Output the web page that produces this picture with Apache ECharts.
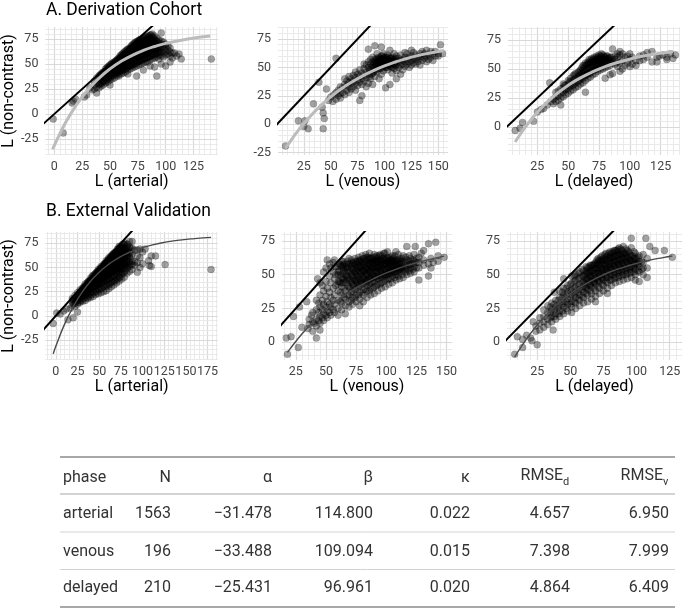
<!DOCTYPE html>
<html><head><meta charset="utf-8">
<script src="https://cdn.jsdelivr.net/npm/echarts@6/dist/echarts.min.js"></script>
<style>html,body{margin:0;padding:0;background:#fff}#c{width:685px;height:611px}</style>
</head><body><div id="c"></div>
<script>
// ---------- DATA ----------
// point rows: [x, y1, y2, ...]
const derivArterialPts = [
[-1,-5],[8,-19],[16,11],[17,13],[19,15],[27,17],[29,19],[32,26],[34,24],
[36,25,29,33],[38,21,27,31,36],[40,26,30,34,38],[42,28,32,37,40],
[44,29,33,38,42],[46,31,35,39,43,45],[48,32,36,41,45,47],[50,29,34,38,43,47,49],
[52,35,39,44,48,51],[54,36,41,45,49,52],[56,38,41,43,47,51,54],[58,38,40,44,48,52,56],
[60,40,43,46,50,54,57,59],[62,41,44,48,52,55,58,61],[64,42,45,49,53,57,60,63],
[66,40,44,47,51,55,58,62,65],[68,45,48,52,56,59,63,66],[70,46,49,53,57,60,64,67,69],
[72,47,50,54,58,62,65,68,71],[74,38,48,52,56,59,63,66,70,72],[76,49,53,57,61,64,68,71,74],
[78,50,54,58,62,66,69,72,75],[80,44,51,55,59,63,67,70,73,76],[82,52,56,60,64,68,71,74,77],
[84,52,57,61,65,69,72,75,78],[86,48,54,58,62,66,70,73,76,79],[88,55,59,63,67,71,74,77,80],
[90,47,56,60,64,68,72,75,78],[92,38,57,61,65,69,73,76],[94,55,59,63,67,71,74],
[96,50,58,62,66,70,73,81],[98,57,61,65,69,72],[100,48,59,63,67,70],[102,60,64,68],
[104,52,58,62,66],[106,56,61],[108,61],[110,58],[112,60],[114,55],[141,55]
];
const derivArterialCore = [
[41,30,35,39],[43,31,36,41],[45,33,37,42],[47,34,38,43,46],[49,36,40,44,48],[51,37,42,46,50],
[53,39,43,47,51],[55,40,45,49,53],[57,42,46,50,55],[59,43,47,51,55,58],[61,44,49,53,57,60],
[63,46,50,54,59,62],[65,47,51,56,60,64],[67,48,53,57,61,65],[69,49,54,58,62,66,68],
[71,50,55,59,63,67,70],[73,51,56,60,64,68,72],[75,52,57,61,65,69,73],[77,53,58,62,66,70,74],
[79,54,59,63,67,71,75],[81,55,60,64,68,72,76],[83,56,61,65,69,73,77],[85,57,62,66,70,74,78],
[87,58,63,67,71,75,79],[89,59,64,68,72,76],[91,60,65,69,73],[93,61,66,70],[95,62,67]
];
const derivVenousPts = [
[8,-19],[20,3],[25,-2],[26,3],[29,-4],[34,18],[39,37],[42,15],[43,10],[44,5],[43,-4],[46,31],[55,58],
[48,21],[50,24],[52,20],[53,26],[55,22,28],[57,25,30],[59,23,27,33],[61,28,32],[63,26,35,40],
[65,30,34,38],[67,28,33,37,42],[69,31,36,40],[71,33,38,43],[73,30,36,41,46],[75,34,39,44],
[77,21,37,42,48],[79,25,35,40,45],[81,38,43,49,53],[83,33,41,46,52],[85,36,44,50,55,66],
[87,40,47,53,57],[89,35,45,51,55,59],[91,42,48,53,57,69],[93,46,51,55,58,62],[95,40,49,53,56,59],
[97,44,51,54,57,60,68],[99,47,52,55,58,62],[101,32,50,53,56,59],[103,48,52,55,57,61],[105,35,51,54,58,65],
[107,45,50,55,59],[109,49,53,57,62],[111,40,47,52,56,60],[113,50,54,58],[115,44,52,56,61],
[117,48,53,57],[119,51,55,59,63],[121,53,57,62],[123,50,55,59],[125,52,56,60,65],[127,54,58,63],
[129,53,57,61],[131,55,59],[133,52,58,62],[135,56,60,64],[137,58,62],[139,55,60,65],[141,57,61],
[143,59,64],[145,56,62],[147,60,64],[150,60,62],[152,70],[154,62]
];
const derivVenousCore = [
[86,42,48],[88,44,50],[90,46,50,54],[92,48,52,56],[94,50,54,57],[96,49,53,56,58],[98,50,54,57,60],
[100,51,55,58],[102,50,54,57,59],[104,52,56,59],[106,51,55,58],[108,53,56],[110,52,55,58]
];
const derivDelayedPts = [
[7,-3],[11,-1],[13,4],[22,5],[25,13],[28,15],[30,16],[33,19],[35,38],[36,22],[44,19],
[38,20,24],[40,22,26,30],[42,23,27,31],[44,25,29,33],[46,26,30,34,37],[48,28,32,36],
[50,29,33,37,40],[52,31,35,39,42],[54,32,36,40,44],[56,34,38,42,46],[58,35,39,43,47],
[60,37,41,45,49],[62,38,42,46,50,53],[64,30,40,44,48,52,55],[66,42,46,50,54,56],
[68,43,47,51,55,57],[70,45,49,53,56,58],[72,46,50,54,57,59],[74,48,52,55,58,60],
[76,49,53,56,58,61],[78,50,54,57,59,62],[80,42,51,55,58,60],[82,52,56,59,61],
[84,45,53,57,60],[86,46,55,58,67],[88,54,58,61],[90,52,56,60,63],[92,48,55,62,65],
[94,50,57,63],[96,53,60],[98,55,61],[100,52,58,63],[102,54,60],[105,53,57],[108,57,61],
[111,58,62],[114,60,64],[118,56,65],[122,56,60],[124,61],[127,62],[130,58,60],[133,63],[135,59],[137,62]
];
const derivDelayedCore = [
[47,32,36],[51,35,39],[55,37,41,45],[59,40,44,48],[61,43,47,51],[63,44,49,53],[65,45,50,54],
[67,46,51,55,58],[69,48,52,56,59],[71,49,53,57,60],[73,50,54,58,61],[75,51,55,59,62],
[77,52,56,60,63],[79,53,57,61],[81,54,58,61],[83,55,59],[85,56,60]
];
const validArterialPts = [
[-3,-8],[1,3],[5,2],[9,5],[12,7],[14,-4],[17,8],[20,-2],[22,10],[25,4],
[19,11,15,18],[22,13,17,21],[25,12,16,20,24],[28,14,18,22,27],[31,15,20,24,29],
[34,16,21,25,29,33],[37,18,22,27,31,35],[40,19,24,28,32,36,39],[43,20,25,30,34,38,42],
[46,22,27,31,36,40,44],[49,23,28,33,37,42,46,48],[52,24,29,34,39,43,47,51],
[55,25,31,36,40,45,49,53],[58,26,32,37,42,46,51,55,57],[61,28,33,38,43,48,52,56,60],
[64,30,35,40,45,50,54,58,62],[67,32,37,42,47,51,56,60,65],[70,34,39,44,48,53,57,62,67],
[73,36,41,46,50,55,59,64,69,72],[76,38,43,48,52,57,61,66,71],[79,40,45,50,54,59,63,68,74],
[82,44,49,53,58,62,67,72],[85,46,51,56,61,66,71,77],[88,48,53,57,64,70,77],
[91,52,56,68],[94,45,55,62,68],[97,50,60,69],[100,54,66],[103,69],
[107,57],[108,52],[110,51,62],[115,62],[126,53],[179,48]
];
const validArterialCore = [
[20,13,17],[23,15,19],[26,14,18,22],[29,16,20,24,26],[32,18,22,26,29],[35,19,23,27,31],
[38,20,25,29,33,36],[41,22,27,31,35,38],[44,24,29,33,37,41],[47,25,30,34,38,42,45],
[50,27,32,36,40,44,47],[53,28,33,38,42,46,50],[56,30,35,39,44,48,52,54],[59,31,36,41,45,50,54,56],
[62,33,38,43,47,52,55,59],[65,35,40,45,49,53,57,61,63],[68,36,41,46,51,55,59,63,65],
[71,38,43,48,52,56,61,65,69],[74,40,45,49,54,58,62,67,71],[77,44,49,54,58,63,67,70,74],
[80,47,52,56,61,65,70,75],[83,51,55,60,64,69,74],[86,53,59,65,70],
[33,24,28,31],[36,26,30,34],[39,28,32,36],[42,30,34,38,41],[45,32,36,40,43],[48,34,38,42,46],
[51,36,40,44,49],[54,38,42,47,51],[57,40,45,49,54],[60,42,47,51,56,58],[63,44,49,54,59,61],
[66,46,51,56,61,64],[69,48,53,58,63,66],[72,50,55,60,65,69],[75,52,57,62,67,72],[78,55,60,65,70,74]
];
const validVenousPts = [
[18,-9],[17,3],[21,4],[27,-4],[23,19],[28,26],[34,30],[30,11],[35,10],[42,3],[45,9],[43,47],[45,44],[38,20],[40,14],
[36,13,17],[39,8,15,22],[42,12,17,24,31],[45,14,19,26,35],[48,16,21,28,38,52],
[51,18,23,30,40,61],[54,20,26,33,44,55],[57,22,28,35,47,61],[60,20,25,31,38,45,52],
[63,24,29,35,41,48,56,60],[66,21,27,32,38,44,50,55],[69,26,30,35,41,47,53,58,62],
[72,28,33,38,43,49,54,59],[75,30,35,40,45,50,55,60],[78,27,32,37,42,47,52,56,61],
[81,30,35,39,44,49,53,57,62],[84,33,38,42,46,50,54,58,63],[87,35,40,44,48,52,56,60],
[90,36,41,45,49,53,57,61,65],[93,38,43,47,51,55,59,62],[96,40,44,48,52,56,60,64],
[99,41,46,50,54,58,61,66],[102,43,47,51,55,58,62],[105,44,49,53,56,60,64],
[108,46,50,54,57,61,67],[111,47,52,55,58,62],[114,48,53,56,60,64],[117,50,54,57,61,71],
[120,51,55,58,62],[123,52,56,60,65],[124,71],[127,46,55,59,63],[129,66],[131,57,61,68],
[135,49,58,73],[137,55,62],[139,59],[141,74],[143,60,64],[148,63]
];
const validVenousCore = [
[44,16,22,29],[47,18,24,31,42],[50,20,26,34,45,55],[53,22,28,37,49,58],[56,24,31,40,52,59],
[62,30,37,44,50,57],[65,33,40,46,53,58],[68,35,42,48,55,60],[71,31,37,44,50,56,61],[74,33,39,46,52,57,62],
[77,35,41,47,53,58,63],[80,37,43,48,54,59,64],[83,39,44,50,55,60,65],[86,38,43,48,53,58,62,66],
[89,40,45,50,55,59,63],[92,42,47,52,56,60,64],[95,43,48,53,57,61,65],[98,45,49,54,58,62,66],
[101,46,50,55,59,63,67],[104,47,51,56,60,63],[107,48,52,57,60,64],[110,49,53,57,61,65],
[113,50,54,58,62],[116,52,55,59,63],[119,53,57,60,64],[122,54,58,61],[125,55,59,62],
[58,42,50,56],[61,45,53,58],[64,47,55,60],[67,49,56],[70,40,46,52,58],[73,42,48,54,59],
[76,43,49,55,60],[79,45,51,56,61],[82,46,52,57,62],[85,47,53,58,63],[88,48,54,59,62],
[91,49,55,60,63],[94,50,56,61,64],[97,51,57,62],[100,52,58,62],[103,53,58,61],[106,54,59,62],
[109,55,60],[112,55,60],
[60,43,50,56],[64,44,51,57],[67,46,52,58],[72,45,51,57],[75,46,52,58],[78,44,50,56,60],[81,47,53,59],
[84,45,51,56,61],[87,47,53,58,62],[90,48,54,59],[93,49,55,60],[96,50,55,60],[99,50,56,61],
[102,51,56,60],[105,52,57,61],[108,52,58],[111,54,59]
];
const validDelayedPts = [
[8,-9],[10,4],[14,2],[14,-4],[17,5],[20,3],[21,1],[25,-2],[22,15],[37,9],
[24,8,12],[27,9,14,18],[30,11,15,19,24],[33,13,17,22,27],[36,15,19,24,29],[38,37],
[39,17,21,26,31],[42,19,23,28,33,38],[45,21,26,30,35,40,47],[48,23,28,32,37,42],
[51,22,26,30,35,39,44,49],[54,25,29,33,37,41,46,50],[57,27,31,35,39,43,48,52],
[60,29,33,37,41,45,49,53],[63,30,35,39,43,47,51,55],[66,32,36,41,45,49,53,57],
[69,30,34,38,43,47,51,55,59],[72,36,40,45,49,53,57,61],[75,38,42,46,50,54,58,62],
[78,36,40,44,48,52,56,60,64],[81,42,46,50,54,58,62,66],[84,44,48,52,56,60,64,68],
[87,45,49,53,57,61,65,70],[90,46,50,54,58,62,66,71],[93,47,51,55,59,63,68],
[96,48,52,56,60,64,70,77],[99,46,50,54,58,62,66],[102,45,52,56,60,64],[105,50,55,59,65],
[107,77],[108,48,55,62],[110,71],[114,68],[121,68],[127,63]
];
const validDelayedCore = [
[35,18,22,26],[38,19,24,28],[41,21,26,31],[44,23,28,33,37],[47,25,30,35,40],
[50,28,33,38,43],[53,30,35,40,45,49],[56,32,37,42,47,51],[59,34,39,44,49,54],[62,36,41,46,51,56],
[65,38,43,48,52,57],[68,40,45,49,54,58],[71,41,46,51,55,60],[74,43,48,52,57,61],[77,45,50,54,58,63],
[80,46,51,56,60,64],[83,47,52,57,61,66],[86,48,53,58,62,67],[89,49,54,59,63,68],[92,50,55,60,64,69],
[95,51,56,61,65],[98,52,57,62,67],[101,53,58,63],[104,54,60],
[61,44,50],[64,46,52,56],[67,47,53,57],[70,48,54,58,61],[73,50,55,59,63],[76,52,57,61,65],
[79,53,58,62,66],[82,54,59,63,67],[85,55,60,64,68],[88,56,61,65,69],[91,57,62,66],[94,58,63,67],
[97,59,64],[100,58,62],
[62,40,47,53],[65,42,49,55],[68,44,51,57],[71,45,52,58,62],[74,47,54,60,64],[77,48,55,61,66],
[80,49,56,62,67],[83,50,57,63,68],[86,51,58,64,69],[89,52,59,65],[92,53,60,66],[95,54,61],[98,55,60]
];

// fitted curves
const curveArtX  = [-1.5,0,10,20,30,40,50,60,70,80,90,100,120,140];
const curveArtY  = [-35.3,-31.5,-8.8,9.4,24.0,35.7,45.1,52.7,58.7,63.6,67.5,70.6,75.1,78.0];
const curveVenX  = [8,10,20,30,40,50,60,70,80,90,100,110,120,130,140,155];
const curveVenY  = [-21.1,-18.3,-5.2,6.0,15.7,24.1,31.3,37.4,42.7,47.3,51.3,54.7,57.6,60.1,62.2,64.9];
const curveDelX  = [7,10,20,30,40,50,60,70,80,90,100,110,120,135];
const curveDelY  = [-12.8,-7.9,6.5,18.3,28.0,35.9,42.3,47.6,52.0,55.5,58.4,60.8,62.7,65.0];
const curveVArtX = [-3,0,10,20,30,40,50,60,70,80,90,100,120,140,160,179];
const curveVArtY = [-39.3,-31.5,-8.8,9.4,24.0,35.7,45.1,52.7,58.7,63.6,67.5,70.6,75.1,78.0,79.9,81.1];
const curveVVenX = [18,20,30,40,50,60,70,80,90,100,110,120,130,148];
const curveVVenY = [-7.7,-5.2,6.0,15.7,24.1,31.3,37.4,42.7,47.3,51.3,54.7,57.6,60.1,63.8];
const curveVDelX = [8,10,20,30,40,50,60,70,80,90,100,110,120,127];
const curveVDelY = [-11.1,-7.9,6.5,18.3,28.0,35.9,42.3,47.6,52.0,55.5,58.4,60.8,62.7,63.9];

// identity line end values (y = x)
const identityEnds = [-60, 220];

// tick labels
const ticksArtX = [0,25,50,75,100,125];
const ticksVArtX = [0,25,50,75,100,125,150,175];
const ticksVenX = [25,50,75,100,125,150];
const ticksDelX = [25,50,75,100,125];
const ticksYfull = [-25,0,25,50,75];
const ticksYpos = [0,25,50,75];

// table
const tblHeader = ['phase','N','α','β','κ'];
const tblPhase = ['arterial','venous','delayed'];
const tblN = [1563,196,210];
const tblAlpha = [-31.478,-33.488,-25.431];
const tblBeta = [114.800,109.094,96.961];
const tblKappa = [0.022,0.015,0.020];
const tblRmseD = [4.657,7.398,4.864];
const tblRmseV = [6.950,7.999,6.409];

// ---------- LAYOUT ----------
const FONT = 'Roboto, sans-serif';
const TFONT = 'Roboto, sans-serif';
const panels = [
 {pts:derivArterialPts.concat(derivArterialCore), cx:curveArtX, cy:curveArtY, xr:[-8,147], yr:[-41,87], g:[45,27,173,128], xl:'L (arterial)', yl:'L (non-contrast)', xt:ticksArtX, yt:ticksYfull, B:false},
 {pts:derivVenousPts.concat(derivVenousCore), cx:curveVenX, cy:curveVenY, xr:[1,159], yr:[-27,85.5], g:[278,27,170,128], xl:'L (venous)', yl:'', xt:ticksVenX, yt:ticksYfull, B:false},
 {pts:derivDelayedPts.concat(derivDelayedCore), cx:curveDelX, cy:curveDelY, xr:[1.2,140.7], yr:[-24,86], g:[508,27,172,128], xl:'L (delayed)', yl:'', xt:ticksDelX, yt:ticksYpos, B:false},
 {pts:validArterialPts.concat(validArterialCore), cx:curveVArtX, cy:curveVArtY, xr:[-12,187], yr:[-45.6,86.7], g:[45,232,173,128], xl:'L (arterial)', yl:'L (non-contrast)', xt:ticksVArtX, yt:ticksYfull, B:true},
 {pts:validVenousPts.concat(validVenousCore), cx:curveVVenX, cy:curveVVenY, xr:[13.5,154.5], yr:[-13.3,81.7], g:[282,232,170,128], xl:'L (venous)', yl:'', xt:ticksVenX, yt:ticksYpos, B:true},
 {pts:validDelayedPts.concat(validDelayedCore), cx:curveVDelX, cy:curveVDelY, xr:[2.2,134.3], yr:[-13.3,81.7], g:[507,232,175,128], xl:'L (delayed)', yl:'', xt:ticksDelX, yt:ticksYpos, B:true}
];

const grids=[], xAxes=[], yAxes=[], series=[];
const majorLS = {color:'#d9d9d9', width:1.2, type:'solid'};
const minorLS = {color:'#e8e8e8', width:0.9, type:'solid'};
panels.forEach((p,i)=>{
  grids.push({left:p.g[0], top:p.g[1], width:p.g[2], height:p.g[3]});
  xAxes.push({type:'value', gridIndex:i, min:p.xr[0], max:p.xr[1],
    axisLine:{show:false}, axisTick:{show:false}, splitLine:{show:false},
    axisLabel:{customValues:p.xt, color:'#444', fontSize:12.5, margin:5, fontFamily:FONT},
    name:p.xl, nameLocation:'middle', nameGap:19,
    nameTextStyle:{fontSize:16, color:'#000', fontFamily:FONT}});
  yAxes.push({type:'value', gridIndex:i, min:p.yr[0], max:p.yr[1],
    axisLine:{show:false}, axisTick:{show:false}, splitLine:{show:false},
    axisLabel:{customValues:p.yt, color:'#444', fontSize:12.5, margin:7, fontFamily:FONT},
    name:p.yl, nameLocation:'middle', nameGap:28,
    nameTextStyle:{fontSize:16, color:'#000', fontFamily:FONT}});
  const gl=[];
  for (let v=Math.ceil(p.xr[0]/5)*5; v<=p.xr[1]; v+=5) gl.push({xAxis:v, lineStyle:(v%25===0)?majorLS:minorLS});
  for (let v=Math.ceil(p.yr[0]/5)*5; v<=p.yr[1]; v+=5) gl.push({yAxis:v, lineStyle:(v%25===0)?majorLS:minorLS});
  series.push({type:'line', xAxisIndex:i, yAxisIndex:i, data:[], silent:true, z:0, zlevel:0,
    markLine:{silent:true, z:0, zlevel:0, symbol:['none','none'], label:{show:false}, animation:false, emphasis:{disabled:true}, data:gl}});
  const pts=[];
  p.pts.forEach(r=>{ for(let k=1;k<r.length;k++) pts.push([r[0], r[k]]); });
  series.push({type:'scatter', xAxisIndex:i, yAxisIndex:i, data:pts, symbolSize:7, z:2, silent:true,
    itemStyle:{color:'rgba(0,0,0,0.45)', borderColor:'rgba(0,0,0,0.3)', borderWidth:0.6}});
  series.push({type:'line', xAxisIndex:i, yAxisIndex:i, data:p.cx.map((x,k)=>[x,p.cy[k]]), smooth:true, symbol:'none', z:3, silent:true,
    lineStyle: p.B ? {color:'#4a4a4a', width:1.4} : {color:'#bcbcbc', width:3}});
  series.push({type:'line', xAxisIndex:i, yAxisIndex:i, data:identityEnds.map(v=>[v,v]), symbol:'none', z:4, silent:true, clip:true,
    lineStyle:{color:'#000', width:2}});
});

// ---------- TABLE ----------
const g = [];
const tL = 60, tR = 675;
const colRight = [0,171,272,373,470,570,669];
const hdrY = 478, rowY = [514,552,588];
const fmt = v => (v<0?'\u2212':'') + Math.abs(v).toFixed(3);
function txt(s, x, y, align, size){
  g.push({type:'text', silent:true, style:{text:s, x:x, y:y, fill:'#333', fontSize:size||16, fontFamily:TFONT,
    align:align, textAlign:align, verticalAlign:'middle', textVerticalAlign:'middle'}});
}
function hline(y, color, w){
  g.push({type:'line', silent:true, shape:{x1:tL, y1:y, x2:tR, y2:y}, style:{stroke:color, lineWidth:w}});
}
hline(457,'#a8a8a8',2); hline(494,'#d3d3d3',2); hline(532,'#d3d3d3',1); hline(569.5,'#d3d3d3',1); hline(607,'#a8a8a8',2);
txt(tblHeader[0], tL+3, hdrY, 'left');
for (let c=1;c<5;c++) txt(tblHeader[c], colRight[c], hdrY, 'right');
txt('RMSE', colRight[5]-7, hdrY-2, 'right'); txt('d', colRight[5]-7, hdrY+4, 'left', 11);
txt('RMSE', colRight[6]-6, hdrY-2, 'right'); txt('v', colRight[6]-6, hdrY+4, 'left', 11);
tblPhase.forEach((ph,r)=>{
  const y=rowY[r];
  txt(ph, tL+3, y, 'left');
  txt(String(tblN[r]), colRight[1], y, 'right');
  txt(fmt(tblAlpha[r]), colRight[2], y, 'right');
  txt(fmt(tblBeta[r]), colRight[3], y, 'right');
  txt(fmt(tblKappa[r]), colRight[4], y, 'right');
  txt(fmt(tblRmseD[r]), colRight[5], y, 'right');
  txt(fmt(tblRmseV[r]), colRight[6], y, 'right');
});

const chart = echarts.init(document.getElementById('c'), null, {width:685, height:611});
chart.setOption({
  animation:false,
  backgroundColor:'#fff',
  title:[
    {text:'A. Derivation Cohort', left:46, top:2, padding:0, textStyle:{fontSize:17.5, fontWeight:'normal', color:'#000', fontFamily:FONT}},
    {text:'B. External Validation', left:46, top:203, padding:0, textStyle:{fontSize:17.5, fontWeight:'normal', color:'#000', fontFamily:FONT}}
  ],
  grid:grids, xAxis:xAxes, yAxis:yAxes, series:series, graphic:g
});
</script></body></html>
